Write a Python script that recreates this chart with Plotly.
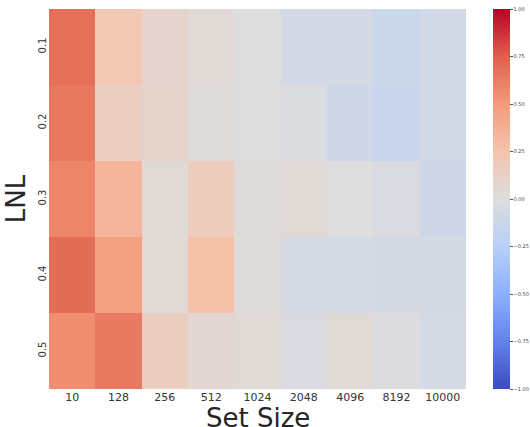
import plotly.graph_objects as go

set_sizes = ["10", "128", "256", "512", "1024", "2048", "4096", "8192", "10000"]
lnl = ["0.1", "0.2", "0.3", "0.4", "0.5"]
row_01 = [0.68, 0.22, 0.08, 0.04, 0.00, -0.07, -0.07, -0.12, -0.08]
row_02 = [0.65, 0.14, 0.09, 0.02, 0.00, -0.02, -0.10, -0.13, -0.08]
row_03 = [0.59, 0.34, 0.03, 0.16, 0.02, 0.04, 0.00, -0.03, -0.10]
row_04 = [0.69, 0.46, 0.03, 0.27, 0.01, -0.05, -0.05, -0.06, -0.06]
row_05 = [0.55, 0.64, 0.15, 0.05, 0.04, -0.03, 0.03, -0.01, -0.05]
z = [row_01, row_02, row_03, row_04, row_05]

coolwarm = [
    [0.0, "#3b4cc0"], [0.125, "#6282ea"], [0.25, "#8db0fe"], [0.375, "#b8d0f9"],
    [0.5, "#dddddd"], [0.625, "#f5c4ad"], [0.75, "#f49a7b"], [0.875, "#de604d"],
    [1.0, "#b40426"],
]

fig = go.Figure(go.Heatmap(
    z=z, x=set_sizes, y=lnl, zmin=-1, zmax=1, colorscale=coolwarm,
    colorbar=dict(
        x=1.065, xanchor="left", y=0.5, yanchor="middle", len=1.0, lenmode="fraction",
        thickness=17, outlinewidth=0, xpad=0, ypad=0,
        ticks="outside", ticklen=3, tickwidth=0.5,
        tickcolor="#555", tickvals=[-1, -0.75, -0.5, -0.25, 0, 0.25, 0.5, 0.75, 1],
        ticktext=["\u22121.00", "\u22120.75", "\u22120.50", "\u22120.25", "0.00", "0.25", "0.50", "0.75", "1.00"],
        tickfont=dict(size=5, color="#444", family="DejaVu Sans"),
    ),
))

fig.update_layout(
    width=530, height=427,
    margin=dict(l=49, r=64, t=9, b=38, autoexpand=False),
    paper_bgcolor="white", plot_bgcolor="white",
    font=dict(family="DejaVu Sans", color="#333"),
    xaxis=dict(
        tickfont=dict(size=11, color="#333"), showgrid=False, zeroline=False, ticks="",
    ),
    yaxis=dict(
        title=dict(text="LNL", font=dict(size=26, color="#262626"), standoff=3),
        tickfont=dict(size=10, color="#333"), tickangle=-90, autorange="reversed",
        showgrid=False, zeroline=False, ticks="",
    ),
    annotations=[dict(
        text="Set Size", xref="paper", yref="paper", x=0.5, y=-0.032,
        xanchor="center", yanchor="top", showarrow=False,
        font=dict(size=26, color="#262626", family="DejaVu Sans"),
    )],
)

fig.write_html("out.html")
